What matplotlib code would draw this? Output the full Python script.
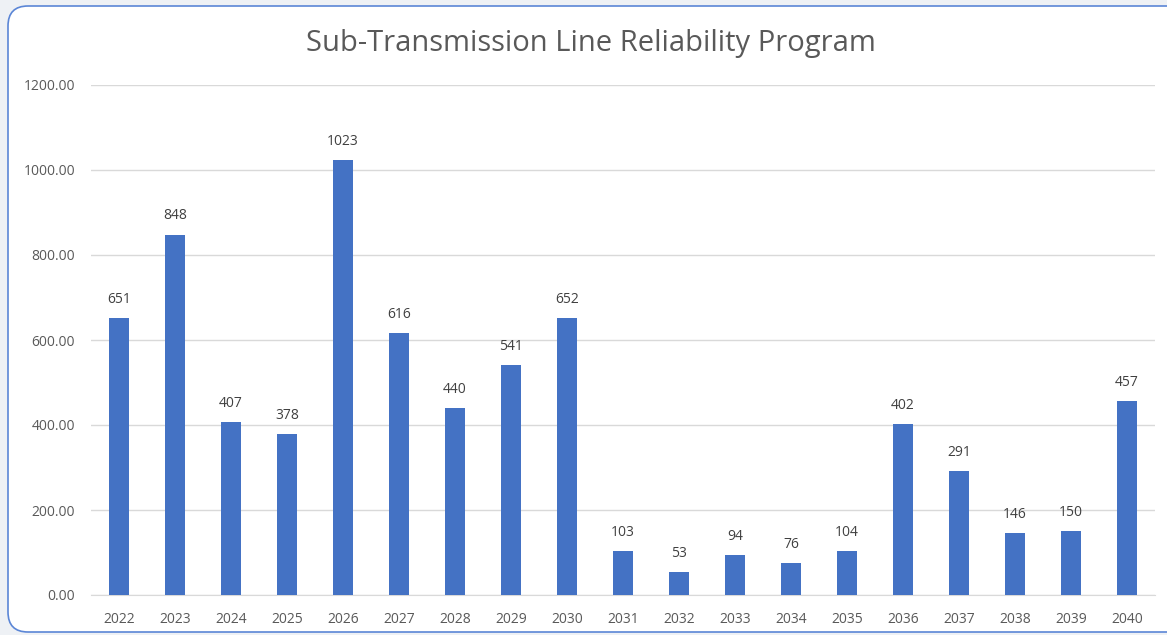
import matplotlib.pyplot as plt
from matplotlib.patches import FancyBboxPatch

# Program spend by year
years = ["2022", "2023", "2024", "2025", "2026", "2027", "2028", "2029", "2030", "2031",
         "2032", "2033", "2034", "2035", "2036", "2037", "2038", "2039", "2040"]
values = [651, 848, 407, 378, 1023, 616, 440, 541, 652, 103,
          53, 94, 76, 104, 402, 291, 146, 150, 457]
y_ticks = [0, 200, 400, 600, 800, 1000, 1200]

BAR_COLOR = "#4472C4"
TEXT_COLOR = "#595959"
W, H = 1167, 635

plt.rcParams["font.family"] = ["Open Sans", "DejaVu Sans"]

fig = plt.figure(figsize=(W / 100, H / 100), dpi=100)
fig.patch.set_facecolor("#eef1f5")

# white card with rounded blue border (coords in inches)
card = FancyBboxPatch((0.08, 0.03), (W + 20) / 100, (H - 9) / 100,
                      boxstyle="round,pad=0,rounding_size=0.2",
                      transform=fig.dpi_scale_trans, facecolor="white",
                      edgecolor="#5b86d6", linewidth=1.2, zorder=-10)
fig.patches.append(card)

ax = fig.add_axes([91 / W, 1 - 595 / H, (1155 - 91) / W, 510 / H])
ax.set_facecolor("none")

x = range(len(years))
bars = ax.bar(x, values, width=0.34, color=BAR_COLOR, zorder=3)
for rect, v in zip(bars, values):
    ax.annotate(f"{v}", (rect.get_x() + rect.get_width() / 2, v),
                xytext=(0, 8), textcoords="offset points", ha="center", va="bottom",
                fontsize=10, color="#404040")

ax.set_xlim(-0.5, len(years) - 0.5)
ax.set_ylim(0, 1200)
ax.set_yticks(y_ticks)
ax.set_yticklabels([f"{t:.2f}" for t in y_ticks])
ax.set_xticks(list(x))
ax.set_xticklabels(years)
ax.tick_params(length=0, labelsize=10, colors=TEXT_COLOR)
ax.tick_params(axis="y", pad=11.5)
ax.tick_params(axis="x", pad=12)
ax.grid(axis="y", color="#d9d9d9", linewidth=1, zorder=0)
for side in ["top", "right", "left"]:
    ax.spines[side].set_visible(False)
ax.spines["bottom"].set_color("#d9d9d9")

fig.text(591 / W, 1 - 44 / H, "Sub-Transmission Line Reliability Program",
         ha="center", va="center", fontsize=21, color=TEXT_COLOR)

fig.savefig("out.png", dpi=100)
